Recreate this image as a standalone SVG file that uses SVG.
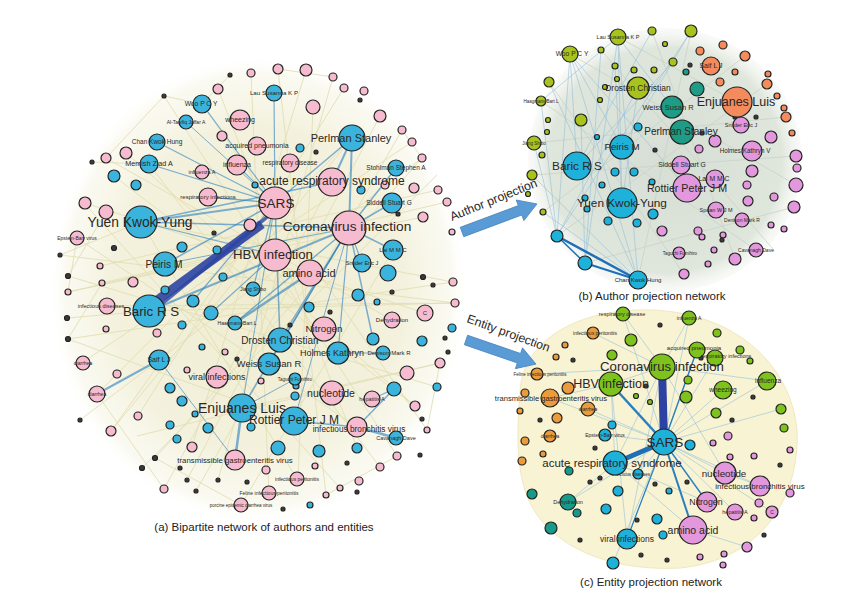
<svg xmlns="http://www.w3.org/2000/svg" width="852" height="601" viewBox="0 0 852 601">
<defs>
<radialGradient id="gA" cx="0.5" cy="0.5" r="0.5">
<stop offset="0" stop-color="#efecd0"/><stop offset="0.7" stop-color="#f3f1dc" stop-opacity="0.95"/><stop offset="0.92" stop-color="#f7f6e8" stop-opacity="0.6"/><stop offset="1" stop-color="#ffffff" stop-opacity="0"/>
</radialGradient>
<radialGradient id="gB" cx="0.5" cy="0.5" r="0.5">
<stop offset="0" stop-color="#d6ded5"/><stop offset="0.85" stop-color="#dfe6dc"/><stop offset="1" stop-color="#eef1ea" stop-opacity="0.3"/>
</radialGradient>
<style>
.n circle{stroke:#232323;stroke-width:1.2}
.A{fill:#3ab4dc}.E{fill:#f7bbd0}.K{fill:#3a3a3a}
.Y{fill:#a8c31e}.T{fill:#1f9c85}.O{fill:#f38b5d}.V{fill:#e398dd}
.G{fill:#7ec21d}.R{fill:#ea9b3b}.B{fill:#1eb1d9}.C{fill:#179b88}
text{font-family:"Liberation Sans",Arial,sans-serif;fill:#2b2622;text-anchor:middle}
.be line{stroke:#e2dfb6;stroke-width:0.9}
.bu line{stroke:#2a7fc0;stroke-opacity:0.6}
.lb line{stroke:#8fbcd8;stroke-width:0.8;stroke-opacity:0.7}
.gb line{stroke:#c9d3c6;stroke-width:0.8}
.arrow{fill:#5b9bd5;stroke:#4a88c0;stroke-width:0.8}
.cap{font-size:11.5px;fill:#222}
</style>
</defs>
<rect width="852" height="601" fill="#ffffff"/>

<g id="backgrounds">
<ellipse cx="258" cy="290" rx="210" ry="235" fill="url(#gA)"/>
<ellipse cx="665" cy="160" rx="137" ry="132" fill="url(#gB)"/>
<path d="M520,395 C520,340 580,308 650,310 C730,312 790,360 797,430 C800,500 760,560 680,568 C600,572 540,540 525,490 C515,460 518,420 520,395 Z" fill="#f8f3d3" stroke="#efe8c0"/>
</g>

<g id="connectors">
<g class="be">
<line x1="106" y1="158" x2="392" y2="320"/><line x1="85" y1="203" x2="425" y2="313"/><line x1="77" y1="238" x2="357" y2="427"/>
<line x1="68" y1="292" x2="349" y2="228"/><line x1="97" y1="394" x2="352" y2="138"/><line x1="111" y1="431" x2="275" y2="203"/>
<line x1="164" y1="489" x2="332" y2="182"/><line x1="241" y1="505" x2="393" y2="250"/><line x1="297" y1="479" x2="141" y2="222"/>
<line x1="380" y1="467" x2="149" y2="164"/><line x1="427" y1="430" x2="202" y2="104"/><line x1="455" y1="303" x2="107" y2="306"/>
<line x1="453" y1="282" x2="68" y2="339"/><line x1="440" y1="363" x2="137" y2="436"/><line x1="422" y1="158" x2="155" y2="458"/>
<line x1="402" y1="130" x2="196" y2="491"/><line x1="333" y1="77" x2="218" y2="480"/><line x1="278" y1="69" x2="326" y2="495"/>
<line x1="218" y1="89" x2="357" y2="448"/><line x1="164" y1="96" x2="397" y2="456"/><line x1="126" y1="153" x2="415" y2="406"/>
<line x1="68" y1="276" x2="437" y2="387"/><line x1="102" y1="283" x2="447" y2="202"/><line x1="83" y1="362" x2="412" y2="142"/>
<line x1="138" y1="416" x2="344" y2="88"/><line x1="192" y1="447" x2="306" y2="70"/><line x1="269" y1="493" x2="251" y2="73"/>
<line x1="340" y1="488" x2="84" y2="203"/><line x1="415" y1="406" x2="114" y2="176"/><line x1="437" y1="175" x2="142" y2="468"/>
<line x1="380" y1="116" x2="187" y2="480"/><line x1="313" y1="107" x2="298" y2="479"/><line x1="438" y1="190" x2="100" y2="266"/>
<line x1="423" y1="217" x2="68" y2="292"/><line x1="68" y1="276" x2="106" y2="212"/><line x1="102" y1="283" x2="68" y2="339"/>
<line x1="155" y1="458" x2="241" y2="505"/><line x1="326" y1="495" x2="397" y2="456"/><line x1="427" y1="430" x2="440" y2="363"/>
<line x1="422" y1="158" x2="402" y2="130"/><line x1="333" y1="77" x2="278" y2="69"/><line x1="164" y1="96" x2="106" y2="158"/>
<line x1="77" y1="238" x2="68" y2="292"/><line x1="97" y1="394" x2="164" y2="489"/><line x1="60" y1="255" x2="455" y2="303"/>
<line x1="149" y1="311" x2="455" y2="303"/><line x1="242" y1="408" x2="440" y2="363"/><line x1="294" y1="421" x2="68" y2="339"/>
<line x1="141" y1="222" x2="453" y2="282"/><line x1="352" y1="138" x2="111" y2="431"/><line x1="159" y1="360" x2="422" y2="158"/>
<line x1="202" y1="104" x2="164" y2="96"/><line x1="202" y1="104" x2="230" y2="75"/><line x1="149" y1="164" x2="92" y2="162"/>
<line x1="141" y1="222" x2="60" y2="255"/><line x1="149" y1="311" x2="67" y2="318"/><line x1="159" y1="360" x2="80" y2="420"/>
</g>
<g class="bu">
<line x1="352" y1="138" x2="349" y2="228" stroke-width="2"/><line x1="352" y1="138" x2="275" y2="203" stroke-width="1.5"/>
<line x1="352" y1="138" x2="332" y2="182" stroke-width="2"/><line x1="396" y1="168" x2="349" y2="228" stroke-width="1.5"/>
<line x1="392" y1="203" x2="349" y2="228" stroke-width="1.5"/><line x1="141" y1="222" x2="275" y2="203" stroke-width="2"/>
<line x1="141" y1="222" x2="332" y2="182" stroke-width="1.4"/><line x1="141" y1="222" x2="349" y2="228" stroke-width="1.4"/>
<line x1="149" y1="164" x2="275" y2="203" stroke-width="1.2"/><line x1="157" y1="142" x2="275" y2="203" stroke-width="1.2"/>
<line x1="202" y1="104" x2="275" y2="203" stroke-width="1.2"/><line x1="274" y1="93" x2="275" y2="203" stroke-width="1.2"/>
<line x1="165" y1="264" x2="275" y2="203" stroke-width="1.5"/><line x1="149" y1="311" x2="349" y2="228" stroke-width="2"/>
<line x1="235" y1="323" x2="310" y2="273" stroke-width="2.5"/><line x1="235" y1="323" x2="349" y2="228" stroke-width="1.4"/>
<line x1="280" y1="340" x2="275" y2="203" stroke-width="1.5"/><line x1="280" y1="340" x2="349" y2="228" stroke-width="1.2"/>
<line x1="159" y1="360" x2="97" y2="394" stroke-width="2"/><line x1="159" y1="360" x2="235" y2="460" stroke-width="1"/>
<line x1="242" y1="408" x2="235" y2="460" stroke-width="2.5"/><line x1="242" y1="408" x2="349" y2="228" stroke-width="1.5"/>
<line x1="294" y1="421" x2="357" y2="427" stroke-width="1.5"/><line x1="396" y1="438" x2="357" y2="427" stroke-width="2.5"/>
<line x1="394" y1="389" x2="357" y2="427" stroke-width="1.5"/><line x1="269" y1="364" x2="349" y2="228" stroke-width="1.2"/>
<line x1="338" y1="353" x2="349" y2="228" stroke-width="1.2"/><line x1="362" y1="263" x2="349" y2="228" stroke-width="1.2"/>
<line x1="393" y1="250" x2="349" y2="228" stroke-width="1.5"/><line x1="349" y1="228" x2="373" y2="339" stroke-width="1.5"/>
<line x1="211" y1="313" x2="275" y2="255" stroke-width="1.2"/><line x1="193" y1="301" x2="275" y2="203" stroke-width="1.2"/>
<line x1="253" y1="289" x2="275" y2="203" stroke-width="1.2"/><line x1="186" y1="122" x2="275" y2="203" stroke-width="1"/>
<line x1="208" y1="197" x2="275" y2="203" stroke-width="1.4"/><line x1="237" y1="165" x2="275" y2="203" stroke-width="1.2"/>
<line x1="294" y1="421" x2="349" y2="228" stroke-width="1"/><line x1="242" y1="408" x2="275" y2="203" stroke-width="1"/>
<line x1="141" y1="222" x2="275" y2="255" stroke-width="1.2"/><line x1="165" y1="264" x2="349" y2="228" stroke-width="1"/>
<line x1="338" y1="353" x2="383" y2="353" stroke-width="1"/><line x1="295" y1="379" x2="242" y2="408" stroke-width="1"/>
<line x1="372" y1="399" x2="394" y2="389" stroke-width="1.2"/>
</g>
<line x1="152" y1="304" x2="262" y2="224" stroke="#2c43a3" stroke-width="9" stroke-opacity="0.9"/>
<line x1="157" y1="308" x2="272" y2="213" stroke="#2c43a3" stroke-width="3.5" stroke-opacity="0.8"/>

<g class="gb">
<line x1="570" y1="54" x2="796" y2="185"/><line x1="618" y1="37" x2="737" y2="102"/><line x1="534" y1="143" x2="786" y2="117"/>
<line x1="557" y1="236" x2="767" y2="84"/><line x1="638" y1="280" x2="691" y2="31"/><line x1="585" y1="263" x2="794" y2="207"/>
<line x1="541" y1="101" x2="756" y2="250"/><line x1="549" y1="82" x2="684" y2="274"/><line x1="532" y1="175" x2="796" y2="156"/>
<line x1="652" y1="31" x2="735" y2="259"/><line x1="543" y1="212" x2="745" y2="56"/><line x1="601" y1="50" x2="773" y2="249"/>
</g>
<g class="lb">
<line x1="570" y1="54" x2="638" y2="280"/><line x1="570" y1="54" x2="557" y2="236"/><line x1="618" y1="37" x2="638" y2="280"/>
<line x1="618" y1="37" x2="585" y2="263"/><line x1="541" y1="101" x2="557" y2="236"/><line x1="534" y1="143" x2="557" y2="236"/>
<line x1="549" y1="82" x2="638" y2="280"/><line x1="570" y1="54" x2="577" y2="166"/><line x1="618" y1="37" x2="622" y2="203"/>
<line x1="691" y1="31" x2="622" y2="147"/><line x1="652" y1="31" x2="577" y2="166"/><line x1="691" y1="31" x2="557" y2="236"/>
<line x1="570" y1="54" x2="622" y2="147"/><line x1="618" y1="37" x2="541" y2="101"/><line x1="532" y1="175" x2="638" y2="280"/>
<line x1="543" y1="212" x2="638" y2="280"/><line x1="581" y1="120" x2="585" y2="263"/><line x1="638" y1="88" x2="622" y2="203"/>
<line x1="673" y1="62" x2="577" y2="166"/><line x1="570" y1="54" x2="687" y2="188"/><line x1="618" y1="37" x2="672" y2="107"/>
<line x1="638" y1="88" x2="557" y2="236"/><line x1="615" y1="66" x2="622" y2="203"/><line x1="601" y1="50" x2="585" y2="263"/>
</g>
<line x1="557" y1="236" x2="638" y2="280" stroke="#1f6fb8" stroke-width="2.5"/>
<line x1="585" y1="263" x2="638" y2="280" stroke="#1f6fb8" stroke-width="2"/>
<line x1="557" y1="236" x2="585" y2="263" stroke="#1f6fb8" stroke-width="1.5"/>

<g class="lb">
<line x1="664" y1="442" x2="611" y2="384"/><line x1="664" y1="442" x2="715" y2="358"/><line x1="664" y1="442" x2="697" y2="350"/>
<line x1="664" y1="442" x2="767" y2="381"/><line x1="664" y1="442" x2="723" y2="390"/><line x1="664" y1="442" x2="725" y2="473"/>
<line x1="664" y1="442" x2="760" y2="486"/><line x1="664" y1="442" x2="627" y2="539"/><line x1="664" y1="442" x2="568" y2="502"/>
<line x1="664" y1="442" x2="550" y2="398"/><line x1="664" y1="442" x2="605" y2="435"/><line x1="664" y1="442" x2="638" y2="474"/>
<line x1="664" y1="442" x2="735" y2="512"/><line x1="664" y1="442" x2="772" y2="512"/><line x1="664" y1="442" x2="613" y2="563"/>
<line x1="664" y1="442" x2="588" y2="409"/><line x1="664" y1="442" x2="623" y2="314"/><line x1="664" y1="442" x2="689" y2="318"/>
<line x1="662" y1="367" x2="611" y2="384"/><line x1="662" y1="367" x2="767" y2="381"/><line x1="662" y1="367" x2="615" y2="463"/>
<line x1="662" y1="367" x2="623" y2="314"/><line x1="662" y1="367" x2="689" y2="318"/><line x1="662" y1="367" x2="725" y2="473"/>
<line x1="662" y1="367" x2="593" y2="333"/><line x1="662" y1="367" x2="627" y2="539"/><line x1="611" y1="384" x2="615" y2="463"/>
<line x1="611" y1="384" x2="627" y2="539"/><line x1="615" y1="463" x2="707" y2="502"/><line x1="615" y1="463" x2="693" y2="530"/>
<line x1="550" y1="398" x2="611" y2="384"/><line x1="537" y1="374" x2="662" y2="367"/><line x1="568" y1="502" x2="615" y2="463"/>
<line x1="725" y1="473" x2="760" y2="486"/><line x1="693" y1="530" x2="747" y2="547"/><line x1="781" y1="409" x2="664" y2="442"/>
</g>
<line x1="662" y1="367" x2="664" y2="442" stroke="#2c43a3" stroke-width="8"/>
<line x1="664" y1="442" x2="615" y2="463" stroke="#1f6fb8" stroke-width="5"/>
<line x1="664" y1="442" x2="611" y2="384" stroke="#2a7fc0" stroke-width="2.5"/>
<line x1="664" y1="442" x2="693" y2="530" stroke="#2a7fc0" stroke-width="2"/>
<line x1="664" y1="442" x2="707" y2="502" stroke="#2a7fc0" stroke-width="1.4"/>
<line x1="664" y1="442" x2="697" y2="350" stroke="#2a7fc0" stroke-width="1.4"/>
<line x1="664" y1="442" x2="627" y2="539" stroke="#2a7fc0" stroke-width="1.2"/>
</g>

<g id="minor-a" class="n">
<circle class="E" cx="278" cy="69" r="5"/><circle class="E" cx="306" cy="70" r="6"/><circle class="E" cx="218" cy="89" r="5"/>
<circle class="E" cx="313" cy="107" r="7"/><circle class="E" cx="380" cy="116" r="6"/><circle class="E" cx="402" cy="130" r="4"/>
<circle class="E" cx="412" cy="142" r="4"/><circle class="E" cx="422" cy="158" r="4"/><circle class="E" cx="414" cy="188" r="5"/>
<circle class="E" cx="423" cy="217" r="5"/><circle class="E" cx="106" cy="158" r="5"/><circle class="E" cx="126" cy="153" r="6"/>
<circle class="E" cx="85" cy="203" r="6"/><circle class="E" cx="106" cy="212" r="7"/><circle class="E" cx="133" cy="282" r="5"/>
<circle class="E" cx="250" cy="225" r="6"/><circle class="E" cx="222" cy="136" r="5"/><circle class="E" cx="344" cy="88" r="4"/>
<circle class="E" cx="251" cy="73" r="4"/><circle class="E" cx="111" cy="431" r="5"/><circle class="E" cx="192" cy="447" r="5"/>
<circle class="E" cx="164" cy="489" r="4"/><circle class="E" cx="266" cy="470" r="4"/><circle class="E" cx="315" cy="466" r="3"/>
<circle class="E" cx="326" cy="495" r="3"/><circle class="E" cx="340" cy="488" r="3"/><circle class="E" cx="359" cy="481" r="4"/>
<circle class="E" cx="380" cy="467" r="4"/><circle class="E" cx="397" cy="456" r="4"/><circle class="E" cx="427" cy="430" r="3"/>
<circle class="E" cx="415" cy="406" r="5"/><circle class="E" cx="440" cy="363" r="5"/><circle class="E" cx="455" cy="303" r="4"/>
<circle class="E" cx="453" cy="282" r="4"/><circle class="E" cx="407" cy="373" r="7"/><circle class="E" cx="157" cy="333" r="4"/>
<circle class="E" cx="225" cy="352" r="3"/><circle class="E" cx="187" cy="370" r="3"/><circle class="E" cx="261" cy="381" r="3"/>
<circle class="E" cx="138" cy="416" r="4"/><circle class="E" cx="117" cy="374" r="4"/><circle class="E" cx="452" cy="232" r="3"/>
<circle class="E" cx="438" cy="190" r="4"/><circle class="E" cx="447" cy="202" r="4"/><circle class="E" cx="333" cy="77" r="4"/>
<circle class="E" cx="364" cy="91" r="4"/><circle class="E" cx="385" cy="185" r="4"/><circle class="E" cx="100" cy="266" r="3"/>
<circle class="E" cx="102" cy="283" r="3"/><circle class="E" cx="68" cy="292" r="3"/><circle class="E" cx="106" cy="329" r="3"/>
<circle class="A" cx="114" cy="176" r="6"/><circle class="A" cx="136" cy="185" r="5"/><circle class="A" cx="170" cy="388" r="5"/>
<circle class="A" cx="182" cy="401" r="5"/><circle class="A" cx="170" cy="425" r="4"/><circle class="A" cx="195" cy="414" r="3"/>
<circle class="A" cx="208" cy="428" r="5"/><circle class="A" cx="177" cy="439" r="4"/><circle class="A" cx="278" cy="448" r="7"/>
<circle class="A" cx="251" cy="427" r="4"/><circle class="A" cx="295" cy="396" r="4"/><circle class="A" cx="319" cy="451" r="6"/>
<circle class="A" cx="357" cy="448" r="5"/><circle class="A" cx="310" cy="505" r="3"/><circle class="A" cx="437" cy="387" r="4"/>
<circle class="A" cx="422" cy="341" r="5"/><circle class="A" cx="452" cy="328" r="4"/><circle class="A" cx="377" cy="302" r="3"/>
<circle class="A" cx="358" cy="295" r="6"/><circle class="A" cx="373" cy="339" r="6"/><circle class="A" cx="309" cy="307" r="5"/>
<circle class="A" cx="223" cy="277" r="4"/><circle class="A" cx="193" cy="301" r="6"/><circle class="A" cx="211" cy="313" r="7"/>
<circle class="A" cx="182" cy="325" r="4"/><circle class="A" cx="202" cy="347" r="3"/><circle class="A" cx="394" cy="389" r="7"/>
<circle class="A" cx="388" cy="273" r="8"/><circle class="A" cx="182" cy="247" r="5"/><circle class="A" cx="217" cy="250" r="4"/>
<circle class="A" cx="165" cy="290" r="4"/><circle class="A" cx="300" cy="148" r="4"/><circle class="A" cx="255" cy="185" r="3"/>
<circle class="A" cx="361" cy="190" r="4"/><circle class="A" cx="296" cy="386" r="3"/>
<circle class="K" cx="164" cy="96" r="2"/><circle class="K" cx="357" cy="492" r="2"/><circle class="K" cx="347" cy="463" r="2"/>
<circle class="K" cx="420" cy="455" r="2"/><circle class="K" cx="422" cy="419" r="2"/><circle class="K" cx="448" cy="352" r="2"/>
<circle class="K" cx="445" cy="338" r="2"/><circle class="K" cx="423" cy="277" r="2.5"/><circle class="K" cx="433" cy="285" r="2"/>
<circle class="K" cx="237" cy="359" r="2"/><circle class="K" cx="283" cy="509" r="2"/><circle class="K" cx="142" cy="468" r="2.5"/>
<circle class="K" cx="155" cy="458" r="2.5"/><circle class="K" cx="180" cy="468" r="2"/><circle class="K" cx="187" cy="480" r="2"/>
<circle class="K" cx="196" cy="491" r="2"/><circle class="K" cx="218" cy="480" r="2"/><circle class="K" cx="247" cy="482" r="2"/>
<circle class="K" cx="68" cy="276" r="2.5"/><circle class="K" cx="67" cy="318" r="2.5"/><circle class="K" cx="68" cy="339" r="2.5"/>
<circle class="K" cx="114" cy="248" r="2.5"/><circle class="K" cx="92" cy="162" r="2"/><circle class="K" cx="60" cy="255" r="2"/>
<circle class="K" cx="80" cy="420" r="2"/><circle class="K" cx="230" cy="75" r="2"/><circle class="K" cx="360" cy="100" r="2"/>
<circle class="K" cx="290" cy="325" r="2"/><circle class="K" cx="330" cy="312" r="2"/><circle class="K" cx="316" cy="152" r="2"/>
<circle class="K" cx="214" cy="233" r="2"/><circle class="K" cx="392" cy="292" r="2"/><circle class="K" cx="398" cy="214" r="2"/>
</g>

<g id="a-ibv" class="n"><circle class="E" cx="357" cy="427" r="10"/><text x="359" y="432" font-size="8.3">infectious bronchitis virus</text></g>
<g id="a-tgev" class="n"><circle class="E" cx="235" cy="460" r="10"/><text x="235" y="463" font-size="7.8">transmissible gastroenteritis virus</text></g>
<g id="a-wheezing" class="n"><circle class="E" cx="240" cy="120" r="10"/><text x="240" y="122" font-size="7">wheezing</text></g>
<g id="a-influenza" class="n"><circle class="E" cx="237" cy="165" r="10"/><text x="237" y="167" font-size="7">influenza</text></g>
<g id="a-acqpn" class="n"><circle class="E" cx="257" cy="146" r="9"/><text x="257" y="148" font-size="7">acquired pneumonia</text></g>
<g id="a-respdis" class="n"><circle class="E" cx="290" cy="163" r="9"/><text x="290" y="165" font-size="6.5">respiratory disease</text></g>
<g id="a-respinf" class="n"><circle class="E" cx="208" cy="197" r="9"/><text x="208" y="199" font-size="6">respiratory infections</text></g>
<g id="a-infA" class="n"><circle class="E" cx="202" cy="172" r="7"/><text x="202" y="174" font-size="5.5">influenza A</text></g>
<g id="a-dehyd" class="n"><circle class="E" cx="392" cy="320" r="8"/><text x="392" y="322" font-size="6">Dehydration</text></g>
<g id="a-c" class="n"><circle class="E" cx="425" cy="313" r="8"/><text x="425" y="315" font-size="6">C</text></g>
<g id="a-hepA" class="n"><circle class="E" cx="372" cy="399" r="8"/><text x="372" y="401" font-size="5.5">hepatitis A</text></g>
<g id="a-ebv" class="n"><circle class="E" cx="77" cy="238" r="7"/><text x="77" y="240" font-size="5">Epstein-Barr virus</text></g>
<g id="a-infdis" class="n"><circle class="E" cx="107" cy="306" r="8"/><text x="101" y="308" font-size="5.5">infectious diseases</text></g>
<g id="a-diarrhea1" class="n"><circle class="E" cx="83" cy="363" r="7"/><text x="83" y="365" font-size="5">diarrhea</text></g>
<g id="a-diarrhea2" class="n"><circle class="E" cx="97" cy="394" r="8"/><text x="97" y="396" font-size="5">diarrhea</text></g>
<g id="a-infperit" class="n"><circle class="E" cx="297" cy="479" r="7"/><text x="297" y="481" font-size="5">infectious peritonitis</text></g>
<g id="a-fip" class="n"><circle class="E" cx="269" cy="493" r="7"/><text x="269" y="495" font-size="5">Feline infectious peritonitis</text></g>
<g id="a-pedv" class="n"><circle class="E" cx="241" cy="505" r="7"/><text x="241" y="507" font-size="4.5">porcine epidemic diarrhea virus</text></g>
<g id="a-siddell" class="n"><circle class="A" cx="392" cy="203" r="10"/><text x="389" y="205" font-size="6.5">Siddell Stuart G</text></g>
<g id="a-lai" class="n"><circle class="A" cx="393" cy="250" r="10"/><text x="393" y="252" font-size="6">Lai M M C</text></g>
<g id="a-saif" class="n"><circle class="A" cx="159" cy="360" r="10"/><text x="159" y="362" font-size="7">Saif L J</text></g>
<g id="a-woo" class="n"><circle class="A" cx="202" cy="104" r="9"/><text x="201" y="106" font-size="6.7">Woo P C Y</text></g>
<g id="a-memish" class="n"><circle class="A" cx="149" cy="164" r="9"/><text x="149" y="166" font-size="7.2">Memish Ziad A</text></g>
<g id="a-snijder" class="n"><circle class="A" cx="362" cy="263" r="9"/><text x="362" y="265" font-size="5.5">Snijder Eric J</text></g>
<g id="a-stohlman" class="n"><circle class="A" cx="396" cy="168" r="8"/><text x="396" y="170" font-size="6.5">Stohlman Stephen A</text></g>
<g id="a-lau" class="n"><circle class="A" cx="274" cy="93" r="8"/><text x="274" y="95" font-size="6.2">Lau Susanna K P</text></g>
<g id="a-chan" class="n"><circle class="A" cx="157" cy="142" r="8"/><text x="157" y="144" font-size="6.5">Chan Kwok Hung</text></g>
<g id="a-altawfiq" class="n"><circle class="A" cx="186" cy="122" r="7"/><text x="186" y="124" font-size="5">Al-Tawfiq Jaffar A</text></g>
<g id="a-cavanagh" class="n"><circle class="A" cx="396" cy="438" r="7"/><text x="396" y="440" font-size="5.5">Cavanagh Dave</text></g>
<g id="a-denison" class="n"><circle class="A" cx="383" cy="353" r="7"/><text x="389" y="355" font-size="6">Denison Mark R</text></g>
<g id="a-jiang" class="n"><circle class="A" cx="253" cy="289" r="7"/><text x="253" y="291" font-size="5">Jiang Shibo</text></g>
<g id="a-haagmans" class="n"><circle class="A" cx="235" cy="323" r="7"/><text x="237" y="325" font-size="5">Haagmans Bart L</text></g>
<g id="a-taguchi" class="n"><circle class="A" cx="295" cy="379" r="6"/><text x="295" y="381" font-size="4.5">Taguchi Fumihiro</text></g>
<g id="a-nitrogen" class="n"><circle class="E" cx="324" cy="329" r="12"/><text x="324" y="332" font-size="9.8">Nitrogen</text></g>
<g id="a-nucleotide" class="n"><circle class="E" cx="332" cy="393" r="12"/><text x="331" y="397" font-size="10.5">nucleotide</text></g>
<g id="a-viralinf" class="n"><circle class="E" cx="217" cy="377" r="11"/><text x="217" y="380" font-size="9">viral infections</text></g>
<g id="a-drosten" class="n"><circle class="A" cx="280" cy="340" r="12"/><text x="280" y="344" font-size="10">Drosten Christian</text></g>
<g id="a-weiss" class="n"><circle class="A" cx="269" cy="364" r="11"/><text x="269" y="367" font-size="9.5">Weiss Susan R</text></g>
<g id="a-holmes" class="n"><circle class="A" cx="338" cy="353" r="11"/><text x="332" y="356" font-size="9">Holmes Kathryn</text></g>
<g id="a-peiris" class="n"><circle class="A" cx="165" cy="264" r="12"/><text x="164" y="268" font-size="10.2">Peiris M</text></g>
<g id="a-perlman" class="n"><circle class="A" cx="352" cy="138" r="13"/><text x="351" y="142" font-size="11">Perlman Stanley</text></g>
<g id="a-amino" class="n"><circle class="E" cx="310" cy="273" r="13"/><text x="309" y="277" font-size="11">amino acid</text></g>
<g id="a-ars" class="n"><circle class="E" cx="332" cy="182" r="14"/><text x="332" y="185" font-size="12">acute respiratory syndrome</text></g>
<g id="a-sars" class="n"><circle class="E" cx="275" cy="203" r="16"/><text x="276" y="208" font-size="13.6">SARS</text></g>
<g id="a-covinf" class="n"><circle class="E" cx="349" cy="228" r="17"/><text x="347" y="231" font-size="13.7">Coronavirus infection</text></g>
<g id="a-hbv" class="n"><circle class="E" cx="275" cy="255" r="16"/><text x="273" y="259" font-size="13.2">HBV infection</text></g>
<g id="a-yuen" class="n"><circle class="A" cx="141" cy="222" r="16"/><text x="140" y="227" font-size="13.8">Yuen Kwok-Yung</text></g>
<g id="a-baric" class="n"><circle class="A" cx="149" cy="311" r="16"/><text x="151" y="316" font-size="13.3">Baric R S</text></g>
<g id="a-enjuanes" class="n"><circle class="A" cx="242" cy="408" r="14"/><text x="242" y="413" font-size="14">Enjuanes Luis</text></g>
<g id="a-rottier" class="n"><circle class="A" cx="294" cy="421" r="14"/><text x="294" y="424" font-size="12">Rottier Peter J M</text></g>

<g id="minor-b" class="n">
<circle class="Y" cx="652" cy="31" r="4"/><circle class="Y" cx="691" cy="31" r="6"/><circle class="Y" cx="601" cy="50" r="3"/>
<circle class="Y" cx="665" cy="44" r="2.5"/><circle class="Y" cx="673" cy="62" r="4"/><circle class="Y" cx="615" cy="66" r="3"/>
<circle class="Y" cx="634" cy="70" r="3"/><circle class="Y" cx="654" cy="70" r="3"/><circle class="Y" cx="617" cy="79" r="2.5"/>
<circle class="Y" cx="549" cy="82" r="5"/><circle class="Y" cx="605" cy="87" r="2.5"/><circle class="Y" cx="600" cy="100" r="2.5"/>
<circle class="Y" cx="581" cy="120" r="6"/><circle class="Y" cx="548" cy="120" r="2.5"/><circle class="Y" cx="547" cy="132" r="2.5"/>
<circle class="Y" cx="542" cy="155" r="3"/><circle class="Y" cx="532" cy="175" r="5"/><circle class="Y" cx="528" cy="194" r="2.5"/>
<circle class="Y" cx="543" cy="212" r="3"/>
<circle class="B" cx="638" cy="127" r="4"/><circle class="B" cx="597" cy="137" r="2.5"/><circle class="B" cx="615" cy="172" r="4"/>
<circle class="B" cx="634" cy="172" r="4"/><circle class="B" cx="652" cy="182" r="3"/><circle class="B" cx="602" cy="185" r="3"/>
<circle class="B" cx="585" cy="198" r="3"/><circle class="B" cx="587" cy="209" r="3"/><circle class="B" cx="653" cy="214" r="5"/>
<circle class="B" cx="608" cy="221" r="4"/><circle class="B" cx="637" cy="223" r="4"/><circle class="B" cx="557" cy="236" r="6"/>
<circle class="B" cx="585" cy="263" r="7"/>
<circle class="T" cx="697" cy="89" r="7"/><circle class="T" cx="686" cy="72" r="3"/>
<circle class="O" cx="723" cy="45" r="4"/><circle class="O" cx="745" cy="56" r="5"/><circle class="O" cx="700" cy="51" r="4"/>
<circle class="O" cx="735" cy="72" r="3"/><circle class="O" cx="720" cy="82" r="4"/><circle class="O" cx="768" cy="74" r="3"/>
<circle class="O" cx="767" cy="84" r="5"/><circle class="O" cx="777" cy="96" r="3"/><circle class="O" cx="784" cy="108" r="3"/>
<circle class="O" cx="786" cy="117" r="5"/><circle class="O" cx="792" cy="133" r="3"/>
<circle class="V" cx="715" cy="141" r="6"/><circle class="V" cx="699" cy="149" r="4"/><circle class="V" cx="771" cy="137" r="6"/>
<circle class="V" cx="796" cy="156" r="6"/><circle class="V" cx="797" cy="168" r="4"/><circle class="V" cx="752" cy="171" r="6"/>
<circle class="V" cx="796" cy="185" r="7"/><circle class="V" cx="747" cy="185" r="4"/><circle class="V" cx="774" cy="197" r="4"/>
<circle class="V" cx="748" cy="201" r="5"/><circle class="V" cx="794" cy="207" r="6"/><circle class="V" cx="662" cy="231" r="5"/>
<circle class="V" cx="698" cy="231" r="4"/><circle class="V" cx="702" cy="237" r="3"/><circle class="V" cx="723" cy="235" r="3"/>
<circle class="V" cx="771" cy="225" r="3"/><circle class="V" cx="784" cy="229" r="3"/><circle class="V" cx="735" cy="259" r="6"/>
<circle class="V" cx="684" cy="274" r="5"/><circle class="V" cx="714" cy="250" r="3"/><circle class="V" cx="708" cy="264" r="3"/>
<circle class="K" cx="655" cy="150" r="2"/><circle class="K" cx="702" cy="133" r="2"/><circle class="K" cx="735" cy="117" r="2"/>
<circle class="K" cx="756" cy="117" r="2"/><circle class="K" cx="722" cy="240" r="2"/><circle class="K" cx="690" cy="65" r="2"/>
</g>
<g id="b-spaan" class="n"><circle class="V" cx="716" cy="210" r="8"/><text x="716" y="212" font-size="5.5">Spaan W J M</text></g>
<g id="b-denison" class="n"><circle class="V" cx="742" cy="220" r="7"/><text x="742" y="222" font-size="5">Denison Mark R</text></g>
<g id="b-cavanagh" class="n"><circle class="V" cx="756" cy="250" r="7"/><text x="756" y="252" font-size="5">Cavanagh Dave</text></g>
<g id="b-taguchi" class="n"><circle class="V" cx="679" cy="253" r="6"/><text x="680" y="255" font-size="4.5">Taguchi Fumihiro</text></g>
<g id="b-snijder" class="n"><circle class="V" cx="741" cy="125" r="8"/><text x="741" y="127" font-size="5.5">Snijder Eric J</text></g>
<g id="b-siddell" class="n"><circle class="V" cx="681" cy="165" r="9"/><text x="682" y="167" font-size="6.8">Siddell Stuart G</text></g>
<g id="b-lai" class="n"><circle class="V" cx="715" cy="179" r="9"/><text x="714" y="181" font-size="6.8">Lai M M C</text></g>
<g id="b-holmes" class="n"><circle class="V" cx="752" cy="151" r="10"/><text x="745" y="153" font-size="6.3">Holmes Kathryn V</text></g>
<g id="b-woo" class="n"><circle class="Y" cx="570" cy="54" r="8"/><text x="572" y="56" font-size="6.7">Woo P C Y</text></g>
<g id="b-lau" class="n"><circle class="Y" cx="618" cy="37" r="8"/><text x="618" y="39" font-size="5.5">Lau Susanna K P</text></g>
<g id="b-jiang" class="n"><circle class="Y" cx="534" cy="143" r="7"/><text x="534" y="145" font-size="4.5">Jiang Shibo</text></g>
<g id="b-haagmans" class="n"><circle class="Y" cx="541" cy="101" r="5"/><text x="541" y="103" font-size="4.5">Haagmans Bart L</text></g>
<g id="b-chan" class="n"><circle class="B" cx="638" cy="280" r="9"/><text x="638" y="282" font-size="6">Chan Kwok Hung</text></g>
<g id="b-saif" class="n"><circle class="O" cx="711" cy="66" r="9"/><text x="711" y="68" font-size="7">Saif L J</text></g>
<g id="b-drosten" class="n"><circle class="Y" cx="638" cy="88" r="11"/><text x="638" y="91" font-size="8.5">Drosten Christian</text></g>
<g id="b-weiss" class="n"><circle class="T" cx="672" cy="107" r="11"/><text x="668" y="110" font-size="7.5">Weiss Susan R</text></g>
<g id="b-perlman" class="n"><circle class="T" cx="682" cy="132" r="12"/><text x="681" y="135" font-size="10">Perlman Stanley</text></g>
<g id="b-peiris" class="n"><circle class="B" cx="622" cy="147" r="12"/><text x="622" y="150" font-size="9.7">Peiris M</text></g>
<g id="b-baric" class="n"><circle class="B" cx="577" cy="166" r="14"/><text x="577" y="170" font-size="11.8">Baric R S</text></g>
<g id="b-yuen" class="n"><circle class="B" cx="622" cy="203" r="15"/><text x="622" y="207" font-size="11.8">Yuen Kwok-Yung</text></g>
<g id="b-rottier" class="n"><circle class="V" cx="687" cy="188" r="14"/><text x="687" y="192" font-size="10.7">Rottier Peter J M</text></g>
<g id="b-enjuanes" class="n"><circle class="O" cx="737" cy="102" r="15"/><text x="736" y="106" font-size="12.5">Enjuanes Luis</text></g>

<g id="minor-c" class="n">
<circle class="G" cx="717" cy="333" r="4"/><circle class="G" cx="631" cy="340" r="6"/><circle class="G" cx="612" cy="355" r="5"/>
<circle class="G" cx="740" cy="350" r="4"/><circle class="G" cx="750" cy="361" r="3"/><circle class="G" cx="688" cy="380" r="4"/>
<circle class="G" cx="686" cy="397" r="6"/><circle class="G" cx="636" cy="396" r="2.5"/><circle class="G" cx="650" cy="402" r="2.5"/>
<circle class="G" cx="781" cy="409" r="5"/><circle class="G" cx="716" cy="413" r="5"/><circle class="G" cx="784" cy="428" r="4"/>
<circle class="R" cx="565" cy="345" r="3"/><circle class="R" cx="556" cy="357" r="3"/><circle class="R" cx="568" cy="388" r="6"/>
<circle class="R" cx="525" cy="393" r="4"/><circle class="R" cx="520" cy="411" r="3"/><circle class="R" cx="557" cy="418" r="5"/>
<circle class="R" cx="525" cy="441" r="4"/><circle class="R" cx="543" cy="454" r="3"/><circle class="R" cx="522" cy="461" r="4"/>
<circle class="B" cx="612" cy="425" r="4"/><circle class="B" cx="690" cy="445" r="5"/><circle class="B" cx="618" cy="491" r="5"/>
<circle class="B" cx="606" cy="509" r="5"/><circle class="B" cx="657" cy="519" r="5"/><circle class="B" cx="669" cy="491" r="3"/>
<circle class="B" cx="663" cy="535" r="4"/><circle class="B" cx="613" cy="563" r="6"/>
<circle class="C" cx="532" cy="494" r="5"/><circle class="C" cx="577" cy="513" r="4"/><circle class="C" cx="551" cy="528" r="6"/>
<circle class="C" cx="569" cy="471" r="4"/>
<circle class="V" cx="754" cy="518" r="3"/><circle class="V" cx="728" cy="436" r="4"/><circle class="V" cx="713" cy="443" r="3"/>
<circle class="V" cx="754" cy="456" r="3"/><circle class="V" cx="730" cy="457" r="3"/><circle class="V" cx="790" cy="450" r="3"/>
<circle class="V" cx="790" cy="493" r="4"/><circle class="V" cx="759" cy="503" r="4"/><circle class="V" cx="747" cy="547" r="5"/>
<circle class="V" cx="700" cy="557" r="3"/><circle class="V" cx="724" cy="554" r="3"/><circle class="V" cx="723" cy="565" r="3"/>
<circle class="K" cx="660" cy="325" r="2"/><circle class="K" cx="701" cy="358" r="2"/><circle class="K" cx="646" cy="386" r="2"/>
<circle class="K" cx="753" cy="397" r="2"/><circle class="K" cx="732" cy="420" r="2"/><circle class="K" cx="780" cy="465" r="2"/>
<circle class="K" cx="655" cy="484" r="2"/><circle class="K" cx="590" cy="482" r="2"/><circle class="K" cx="600" cy="478" r="2"/>
<circle class="K" cx="687" cy="482" r="2"/><circle class="K" cx="580" cy="540" r="2"/><circle class="K" cx="641" cy="555" r="2"/>
<circle class="K" cx="667" cy="560" r="2"/><circle class="K" cx="540" cy="420" r="2"/><circle class="K" cx="573" cy="360" r="2"/>
<circle class="K" cx="595" cy="448" r="2"/><circle class="K" cx="764" cy="535" r="2"/><circle class="K" cx="637" cy="520" r="2"/>
</g>
<g id="c-infperit" class="n"><circle class="R" cx="593" cy="333" r="6"/><text x="595" y="335" font-size="5">infectious peritonitis</text></g>
<g id="c-fip" class="n"><circle class="R" cx="537" cy="374" r="6"/><text x="540" y="376" font-size="4.5">Feline infectious peritonitis</text></g>
<g id="c-diarrhea" class="n"><circle class="R" cx="588" cy="409" r="7"/><text x="588" y="411" font-size="5">diarrhea</text></g>
<g id="c-diarrhea2" class="n"><circle class="R" cx="550" cy="436" r="6"/><text x="550" y="438" font-size="5">diarrhea</text></g>
<g id="c-respdis" class="n"><circle class="G" cx="623" cy="314" r="7"/><text x="622" y="316" font-size="5.5">respiratory disease</text></g>
<g id="c-infA" class="n"><circle class="G" cx="689" cy="318" r="7"/><text x="689" y="320" font-size="5">influenza A</text></g>
<g id="c-acqpn" class="n"><circle class="G" cx="697" cy="350" r="8"/><text x="694" y="349.5" font-size="6">acquired pneumonia</text></g>
<g id="c-respinf" class="n"><circle class="G" cx="715" cy="358" r="8"/><text x="726" y="357.5" font-size="5.5">respiratory infections</text></g>
<g id="c-influenza" class="n"><circle class="G" cx="767" cy="381" r="9"/><text x="768" y="383" font-size="6.5">influenza</text></g>
<g id="c-wheezing" class="n"><circle class="G" cx="723" cy="390" r="9"/><text x="723" y="392" font-size="6.5">wheezing</text></g>
<g id="c-tgev" class="n"><circle class="R" cx="550" cy="398" r="9"/><text x="551" y="401" font-size="7.6">transmissible gastroenteritis virus</text></g>
<g id="c-ebv" class="n"><circle class="B" cx="605" cy="435" r="6"/><text x="605" y="437" font-size="5">Epstein-Barr virus</text></g>
<g id="c-infdis" class="n"><circle class="B" cx="638" cy="474" r="5"/><text x="631" y="476" font-size="4.5">infectious diseases</text></g>
<g id="c-dehyd" class="n"><circle class="C" cx="568" cy="502" r="8"/><text x="568" y="504" font-size="5.5">Dehydration</text></g>
<g id="c-hepA" class="n"><circle class="V" cx="735" cy="512" r="8"/><text x="735" y="514" font-size="5.5">hepatitis A</text></g>
<g id="c-c" class="n"><circle class="V" cx="772" cy="512" r="6"/><text x="772" y="514" font-size="5">C</text></g>
<g id="c-viral" class="n"><circle class="B" cx="627" cy="539" r="10"/><text x="627" y="542" font-size="8.5">viral infections</text></g>
<g id="c-ibv" class="n"><circle class="V" cx="760" cy="486" r="10"/><text x="760" y="489" font-size="8">infectious bronchitis virus</text></g>
<g id="c-nuc" class="n"><circle class="V" cx="725" cy="473" r="11"/><text x="724" y="477" font-size="9.8">nucleotide</text></g>
<g id="c-nit" class="n"><circle class="V" cx="707" cy="502" r="10"/><text x="706" y="505" font-size="8.8">Nitrogen</text></g>
<g id="c-amino" class="n"><circle class="V" cx="693" cy="530" r="14"/><text x="693" y="534" font-size="10.5">amino acid</text></g>
<g id="c-ars" class="n"><circle class="B" cx="615" cy="463" r="12"/><text x="612" y="467" font-size="11.5">acute respiratory syndrome</text></g>
<g id="c-sars" class="n"><circle class="B" cx="664" cy="442" r="13"/><text x="665" y="447" font-size="13.5">SARS</text></g>
<g id="c-hbv" class="n"><circle class="G" cx="611" cy="384" r="12"/><text x="611" y="388" font-size="12.5">HBV infection</text></g>
<g id="c-covinf" class="n"><circle class="G" cx="662" cy="367" r="13"/><text x="662" y="371" font-size="13.2">Coronavirus infection</text></g>

<g id="arrow-author">
<polygon class="arrow" transform="translate(462,232) rotate(-20.5)" points="0,-5 62,-5 62,-11 80,0 62,11 62,5 0,5"/>
<text transform="translate(452,221) rotate(-22)" x="0" y="0" font-size="12.3" style="text-anchor:start">Author projection</text>
</g>
<g id="arrow-entity">
<polygon class="arrow" transform="translate(466,340) rotate(19)" points="0,-5 56,-5 56,-11 74,0 56,11 56,5 0,5"/>
<text transform="translate(466,322) rotate(20)" x="0" y="0" font-size="12.3" style="text-anchor:start">Entity projection</text>
</g>

<g id="captions">
<text class="cap" x="264" y="531">(a) Bipartite network of authors and entities</text>
<text class="cap" x="652" y="300">(b) Author projection network</text>
<text class="cap" x="651" y="586">(c) Entity projection network</text>
</g>
</svg>
